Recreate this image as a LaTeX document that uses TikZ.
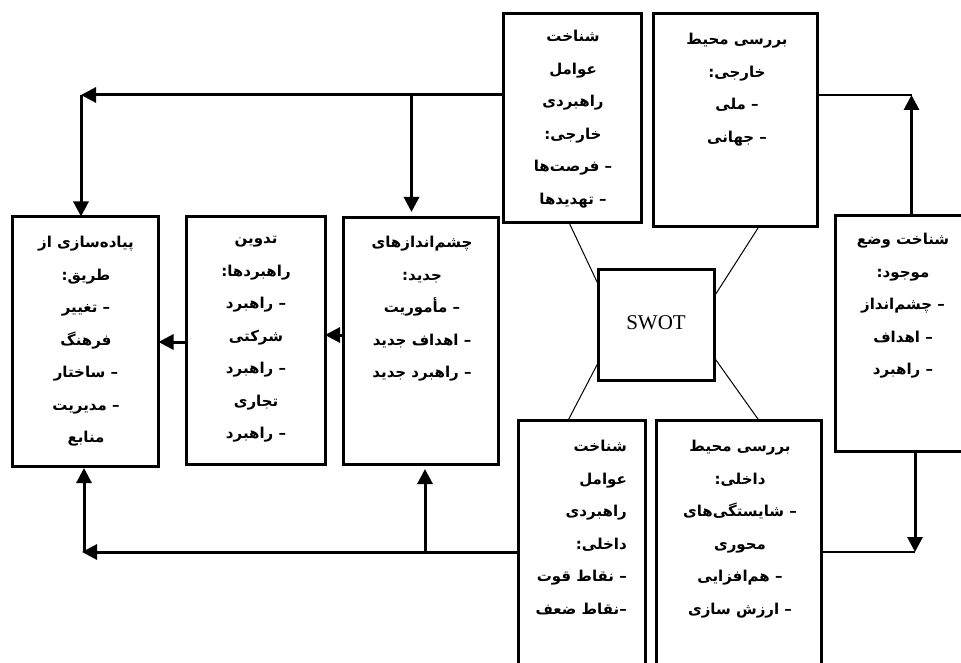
\documentclass[tikz,border=0pt]{standalone}
\usepackage{fontspec}
\usetikzlibrary{arrows.meta}
\setmainfont{Liberation Serif}
\TeXXeTstate=1
\newfontfamily\fafont[Script=Arabic]{DejaVu Sans}
\newcommand{\fa}[1]{\beginR #1\endR}
\tikzset{
  box/.style={draw=black,line width=3pt,inner sep=0pt,outer sep=0pt},
  txt/.style={anchor=north,inner sep=0pt,align=center,text=black,font=\fafont\bfseries\fontsize{15}{32.5}\selectfont},
  thick link/.style={line width=3pt,draw=black},
  thin link/.style={line width=1.6pt,draw=black},
  swot link/.style={line width=1pt,draw=black},
  head/.style={-{Triangle[length=15pt,width=15pt]}}
}
\begin{document}
\begin{tikzpicture}[x=1pt,y=-1pt]
\useasboundingbox (0,0) rectangle (961,663);
\clip (0,0) rectangle (961,663);
\fill[white] (0,0) rectangle (961,663);
% boxes
\node[box,minimum width=138pt,minimum height=209pt] (top1) at (572.5,118) {};
\node[box,minimum width=164pt,minimum height=213pt] (top2) at (735.5,120) {};
\node[box,minimum width=116pt,minimum height=111pt] (swot) at (656.5,325) {};
\node[box,minimum width=160pt,minimum height=236pt] (right) at (915.5,333.5) {};
\node[box,minimum width=127pt,minimum height=280pt] (bot1) at (582,560.5) {};
\node[box,minimum width=165pt,minimum height=280pt] (bot2) at (739,560.5) {};
\node[box,minimum width=146pt,minimum height=250pt] (left1) at (85.5,341.5) {};
\node[box,minimum width=139pt,minimum height=248pt] (left2) at (255.5,340.5) {};
\node[box,minimum width=155pt,minimum height=247pt] (left3) at (421,341) {};
% texts
\node[txt] (ttop1) at (573,30) {\fa{شناخت}\\\fa{عوامل}\\\fa{راهبردی}\\\fa{خارجی:}\\\fa{– فرصت‌ها}\\\fa{– تهدیدها}};
\node[txt] (ttop2) at (737,33) {\fa{بررسی محیط}\\\fa{خارجی:}\\\fa{– ملی}\\\fa{– جهانی}};
\node[inner sep=0pt,font=\fontsize{21}{25}\selectfont] (tswot) at (656,323) {SWOT};
\node[txt] (tright) at (903,233) {\fa{شناخت وضع}\\\fa{موجود:}\\\fa{– چشم‌انداز}\\\fa{– اهداف}\\\fa{– راهبرد}};
\node[txt,align=right,anchor=north east] (tbot1) at (627,440) {\fa{شناخت}\\\fa{عوامل}\\\fa{راهبردی}\\\fa{داخلی:}\\\fa{– نقاط قوت}\\\fa{–نقاط ضعف}};
\node[txt] (tbot2) at (740,440) {\fa{بررسی محیط}\\\fa{داخلی:}\\\fa{– شایستگی‌های}\\\fa{محوری}\\\fa{– هم‌افزایی}\\\fa{– ارزش سازی}};
\node[txt] (tleft1) at (86,236) {\fa{پیاده‌سازی از}\\\fa{طریق:}\\\fa{– تغییر}\\\fa{فرهنگ}\\\fa{– ساختار}\\\fa{– مدیریت}\\\fa{منابع}};
\node[txt] (tleft2) at (256,236) {\fa{تدوین}\\\fa{راهبردها:}\\\fa{– راهبرد}\\\fa{شرکتی}\\\fa{– راهبرد}\\\fa{تجاری}\\\fa{– راهبرد}};
\node[txt] (tleft3) at (422,236) {\fa{چشم‌اندازهای}\\\fa{جدید:}\\\fa{– مأموریت}\\\fa{– اهداف جدید}\\\fa{– راهبرد جدید}};
% junctions
\coordinate (jtopL) at (81,95);
\coordinate (jtopM) at (411.5,95);
\coordinate (jtopR) at (911.5,95);
\coordinate (jbotR) at (915,552);
\coordinate (jbotL) at (82,552);
\coordinate (jbotU) at (84,552);
\coordinate (jbotM) at (425,552);
% connectors
\draw[thick link,head] (top1.west |- jtopM) -- (jtopL);
\draw[thick link,head] (jtopL) -- (jtopL |- left1.north);
\draw[thick link,head,shorten >=5.5pt] (jtopM) -- (jtopM |- left3.north);
\draw[thin link] (top2.east |- jtopR) -- (jtopR);
\draw[thick link,head] (jtopR |- right.north) -- (jtopR);
\draw[thick link,head] (jbotR |- right.south) -- (jbotR);
\draw[thin link] (jbotR) -- (jbotR -| bot2.east);
\draw[thick link,head] (bot1.west |- jbotM) -- (jbotL);
\draw[thick link,head,shorten >=1.5pt] (jbotU) -- (jbotU |- left1.south);
\draw[thick link,head,shorten >=4.5pt] (jbotM) -- (jbotM |- left3.south);
\coordinate (a12) at (0,342);
\coordinate (a23) at (0,335);
\draw[thick link,head] (left2.west |- a12) -- (left1.east |- a12);
\draw[thick link,head] (left3.west |- a23) -- (left2.east |- a23);
\coordinate (s1) at (569,223);\coordinate (s2) at (597,285);
\coordinate (s3) at (759,228);\coordinate (s4) at (716,296);
\coordinate (s5) at (568,419);\coordinate (s6) at (596,362);
\coordinate (s7) at (759,419);\coordinate (s8) at (717,358);
\draw[swot link] (top1.south -| s1) -- (swot.west |- s2);
\draw[swot link] (top2.south -| s3) -- (swot.east |- s4);
\draw[swot link] (bot1.north -| s5) -- (swot.west |- s6);
\draw[swot link] (bot2.north -| s7) -- (swot.east |- s8);
\end{tikzpicture}
\end{document}
